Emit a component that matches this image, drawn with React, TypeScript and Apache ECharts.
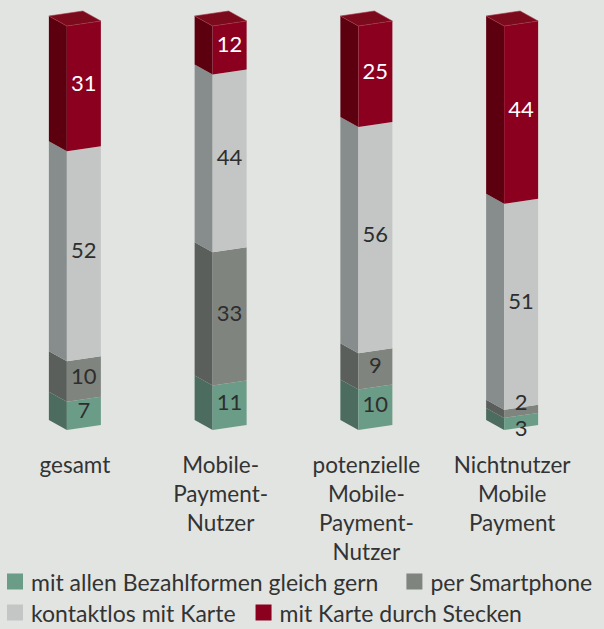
import React, { useEffect, useRef } from "react";
import * as echarts from "echarts";

const categories = ["gesamt", "Mobile-\nPayment-\nNutzer", "potenzielle\nMobile-\nPayment-\nNutzer", "Nichtnutzer\nMobile\nPayment"];
const seriesNames = ["mit allen Bezahlformen gleich gern", "per Smartphone", "kontaktlos mit Karte", "mit Karte durch Stecken"];
const gleichGern = [7, 11, 10, 3];
const smartphone = [10, 33, 9, 2];
const kontaktlos = [52, 44, 56, 51];
const stecken = [31, 12, 25, 44];

const frontColors = ["#6b9c88", "#7f847f", "#c3c6c4", "#8a001e"];
const sideColors = ["#4b6c5f", "#5a5f5b", "#878c8c", "#5c0010"];
const topColors = ["#5d8574", "#6d726e", "#a9adab", "#7a0a1c"];
const labelColors = ["#2e2e2e", "#2e2e2e", "#2e2e2e", "#ffffff"];

const D = 18, DY = 10, F = 34, FY = -5;

export default function App() {
  const ref = useRef<HTMLDivElement>(null);
  useEffect(() => {
    if (!ref.current) return;
    const chart = echarts.init(ref.current, undefined, { renderer: "svg" });
    const all = [gleichGern, smartphone, kontaktlos, stecken];
    const FONT = "Lato";
    const labelData: any[] = [];
    const series: any[] = all.map((vals, si) => {
      const data = vals.map((v, ci) => {
        let start = 0;
        for (let k = 0; k < si; k++) start += all[k][ci];
        labelData.push([ci, start, start + v, v, si]);
        return [ci, start, start + v, v];
      });
      return {
        type: "custom",
        name: seriesNames[si],
        itemStyle: { color: frontColors[si] },
        encode: { x: 0, y: [1, 2] },
        data,
        renderItem: (params: any, api: any) => {
          const cat = api.value(0);
          const s = api.value(1);
          const e = api.value(2);
          const p0 = api.coord([cat, s]);
          const p1 = api.coord([cat, e]);
          const x0 = p0[0] - 26;
          const yb = p0[1];
          const yt = p1[1];
          const children: any[] = [
            {
              type: "polygon",
              shape: { points: [[x0, yb], [x0 + D, yb + DY], [x0 + D, yt + DY], [x0, yt]] },
              style: { fill: sideColors[si] },
            },
            {
              type: "polygon",
              shape: { points: [[x0 + D, yb + DY], [x0 + D + F, yb + DY + FY], [x0 + D + F, yt + DY + FY], [x0 + D, yt + DY]] },
              style: { fill: frontColors[si] },
            },
          ];
          if (si === all.length - 1) {
            children.push({
              type: "polygon",
              shape: { points: [[x0, yt], [x0 + D, yt + DY], [x0 + D + F, yt + DY + FY], [x0 + F, yt + FY]] },
              style: { fill: topColors[si], stroke: "#a3384a", lineWidth: 0.6 },
            });
          }
          return { type: "group", children };
        },
      };
    });
    series.push({
      type: "custom",
      name: "labels",
      z: 10,
      encode: { x: 0, y: [1, 2] },
      data: labelData,
      renderItem: (params: any, api: any) => {
        const cat = api.value(0);
        const s = api.value(1);
        const e = api.value(2);
        const v = api.value(3);
        const si = api.value(4);
        const p0 = api.coord([cat, s]);
        const p1 = api.coord([cat, e]);
        const x0 = p0[0] - 26;
        const yb = p0[1];
        const yt = p1[1];
        let ly = (yb + yt) / 2 + 3.5;
        if (v < 4) {
          ly = si === 0 ? yb + 7 : yt + 2;
        }
        return {
          type: "text",
          x: x0 + D + F / 2,
          y: ly,
          style: {
            text: String(v),
            fill: labelColors[si],
            font: `22px ${FONT}`,
            align: "center",
            verticalAlign: "middle",
          },
        };
      },
    });
    const legendText = { fontFamily: FONT, fontSize: 23, color: "#333333", padding: [0, 0, 0, 3] };
    chart.setOption({
      animation: false,
      backgroundColor: "#e2e4e1",
      grid: { left: 2, right: 19, top: 16, bottom: 209 },
      xAxis: {
        type: "category",
        data: categories,
        axisLine: { show: false },
        axisTick: { show: false },
        axisLabel: {
          interval: 0,
          margin: 30,
          fontFamily: FONT,
          fontSize: 22.5,
          lineHeight: 29,
          color: "#333333",
          verticalAlign: "top",
        },
      },
      yAxis: { type: "value", min: 0, max: 100, show: false, splitLine: { show: false } },
      legend: [
        {
          data: [seriesNames[0], seriesNames[1]],
          left: 7,
          top: 570,
          width: 597,
          padding: 0,
          icon: "rect",
          itemWidth: 16,
          itemHeight: 16,
          itemGap: 28,
          textStyle: legendText,
        },
        {
          data: [seriesNames[2], seriesNames[3]],
          left: 7,
          top: 601,
          width: 597,
          padding: 0,
          icon: "rect",
          itemWidth: 16,
          itemHeight: 16,
          itemGap: 20,
          textStyle: legendText,
        },
      ],
      series,
    });
    return () => chart.dispose();
  }, []);
  return <div ref={ref} style={{ position: "fixed", left: 0, top: 0, width: 604, height: 629 }} />;
}
